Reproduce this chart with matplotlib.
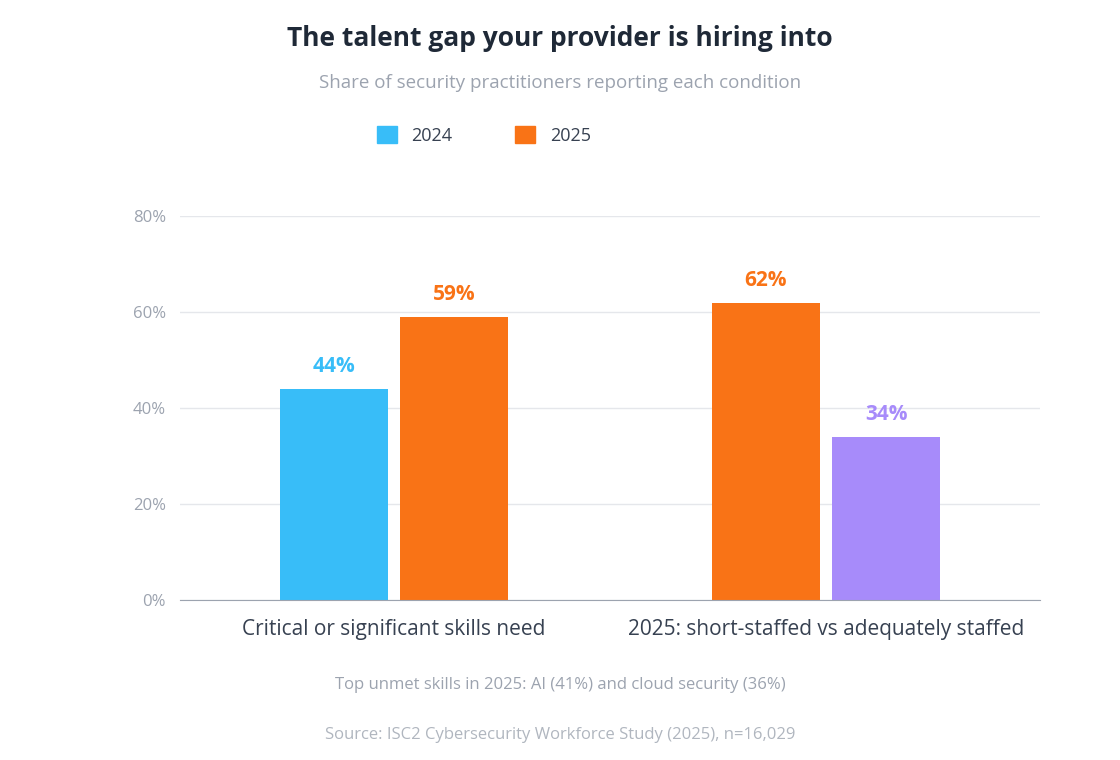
import matplotlib.pyplot as plt
from matplotlib.patches import Patch

plt.rcParams["font.family"] = ["Open Sans", "DejaVu Sans"]

categories = ["Critical or significant skills need", "2025: short-staffed vs adequately staffed"]
left_values = [44, 62]
right_values = [59, 34]
left_colors = ["#38bdf8", "#f97316"]
right_colors = ["#f97316", "#a78bfa"]
y_ticks = [0, 20, 40, 60, 80]

fig = plt.figure(figsize=(11.2, 7.6), dpi=100)
ax = fig.add_axes([0.1607, 0.2105, 0.768, 0.505])

centers = [0.498, 1.502]
w = 0.251
off = 0.14
for i, c in enumerate(centers):
    for x, v, col in [(c - off, left_values[i], left_colors[i]), (c + off, right_values[i], right_colors[i])]:
        ax.bar(x, v, width=w, color=col, zorder=3)
        ax.text(x, v + 2.5, f"{v}%", ha="center", va="bottom", fontsize=15,
                fontweight="bold", color=col)

ax.set_xlim(0, 2)
ax.set_ylim(0, 80)
ax.set_yticks(y_ticks)
ax.set_yticklabels([f"{t}%" for t in y_ticks], fontsize=12, color="#9ca3af")
ax.set_xticks(centers)
ax.set_xticklabels(categories, fontsize=15, color="#374151")
ax.tick_params(length=0, pad=10)
ax.tick_params(axis="x", pad=14)
ax.grid(axis="y", color="#e5e7eb", linewidth=1, zorder=0)
for s in ["top", "right", "left"]:
    ax.spines[s].set_visible(False)
ax.spines["bottom"].set_color("#9ca3af")
ax.spines["bottom"].set_zorder(4)

fig.text(0.5, 0.94, "The talent gap your provider is hiring into", ha="center",
         fontsize=19, fontweight="bold", color="#1f2937")
fig.text(0.5, 0.884, "Share of security practitioners reporting each condition", ha="center",
         fontsize=13.5, color="#9ca3af")
fig.legend(handles=[Patch(color="#38bdf8", label="2024"), Patch(color="#f97316", label="2025")],
           loc="center", bbox_to_anchor=(0.432, 0.822), ncol=2, frameon=False,
           fontsize=13, handlelength=1.1, handleheight=1.1, columnspacing=3.5,
           labelcolor="#374151")
fig.text(0.5, 0.093, "Top unmet skills in 2025: AI (41%) and cloud security (36%)", ha="center",
         fontsize=12, color="#9ca3af")
fig.text(0.5, 0.028, "Source: ISC2 Cybersecurity Workforce Study (2025), n=16,029", ha="center",
         fontsize=12, color="#b0b6bf")

fig.savefig("out.png", dpi=100)
